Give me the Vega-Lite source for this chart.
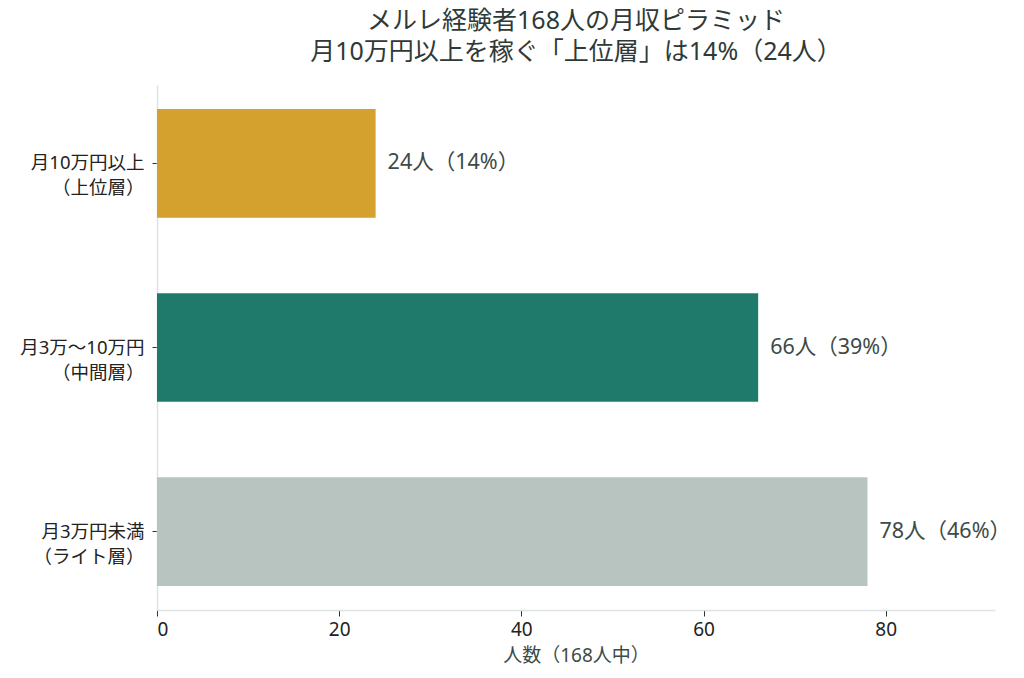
{
  "$schema": "https://vega.github.io/schema/vega-lite/v6.json",
  "autosize": "none",
  "width": 838,
  "height": 525,
  "padding": {"left": 157, "top": 85, "right": 29, "bottom": 68},
  "background": "white",
  "config": {
    "font": "Noto Sans, Noto Sans CJK JP",
    "view": {"stroke": null}
  },
  "title": {
    "text": ["メルレ経験者168人の月収ピラミッド", "月10万円以上を稼ぐ「上位層」は14%（24人）"],
    "fontSize": 25,
    "fontWeight": "normal",
    "color": "#2f3a37",
    "anchor": "middle",
    "offset": 20,
    "lineHeight": 31
  },
  "data": {
    "values": [
      {"tier": "月10万円以上|（上位層）", "count": 24, "label": "24人（14%）", "color": "#D4A12E"},
      {"tier": "月3万〜10万円|（中間層）", "count": 66, "label": "66人（39%）", "color": "#207A6C"},
      {"tier": "月3万円未満|（ライト層）", "count": 78, "label": "78人（46%）", "color": "#B8C4BF"}
    ]
  },
  "encoding": {
    "y": {
      "field": "tier",
      "type": "nominal",
      "sort": null,
      "scale": {"paddingInner": 0.41, "paddingOuter": 0.13},
      "axis": {
        "title": null,
        "labelExpr": "split(datum.value, '|')",
        "labelFontSize": 18.5,
        "labelColor": "#222222",
        "labelLineHeight": 25,
        "labelAlign": "right",
        "labelPadding": 8,
        "tickSize": 5,
        "tickColor": "#333333",
        "domainColor": "#dde3e1",
        "domainWidth": 1.5
      }
    },
    "x": {
      "field": "count",
      "type": "quantitative",
      "scale": {"domain": [0, 92], "nice": false},
      "axis": {
        "title": "人数（168人中）",
        "titleFontSize": 19,
        "titleFontWeight": "normal",
        "titleColor": "#3d4a47",
        "titlePadding": 7,
        "values": [0, 20, 40, 60, 80],
        "labelFontSize": 19,
        "labelColor": "#222222",
        "labelPadding": 4,
        "tickSize": 6,
        "tickColor": "#333333",
        "domainColor": "#dde3e1",
        "domainWidth": 1.5,
        "grid": false
      }
    }
  },
  "layer": [
    {
      "mark": {"type": "bar"},
      "encoding": {
        "color": {"field": "color", "type": "nominal", "scale": null, "legend": null}
      }
    },
    {
      "mark": {"type": "text", "align": "left", "baseline": "middle", "dx": 12, "fontSize": 21.5, "color": "#3d4a47"},
      "encoding": {
        "text": {"field": "label"}
      }
    }
  ]
}
